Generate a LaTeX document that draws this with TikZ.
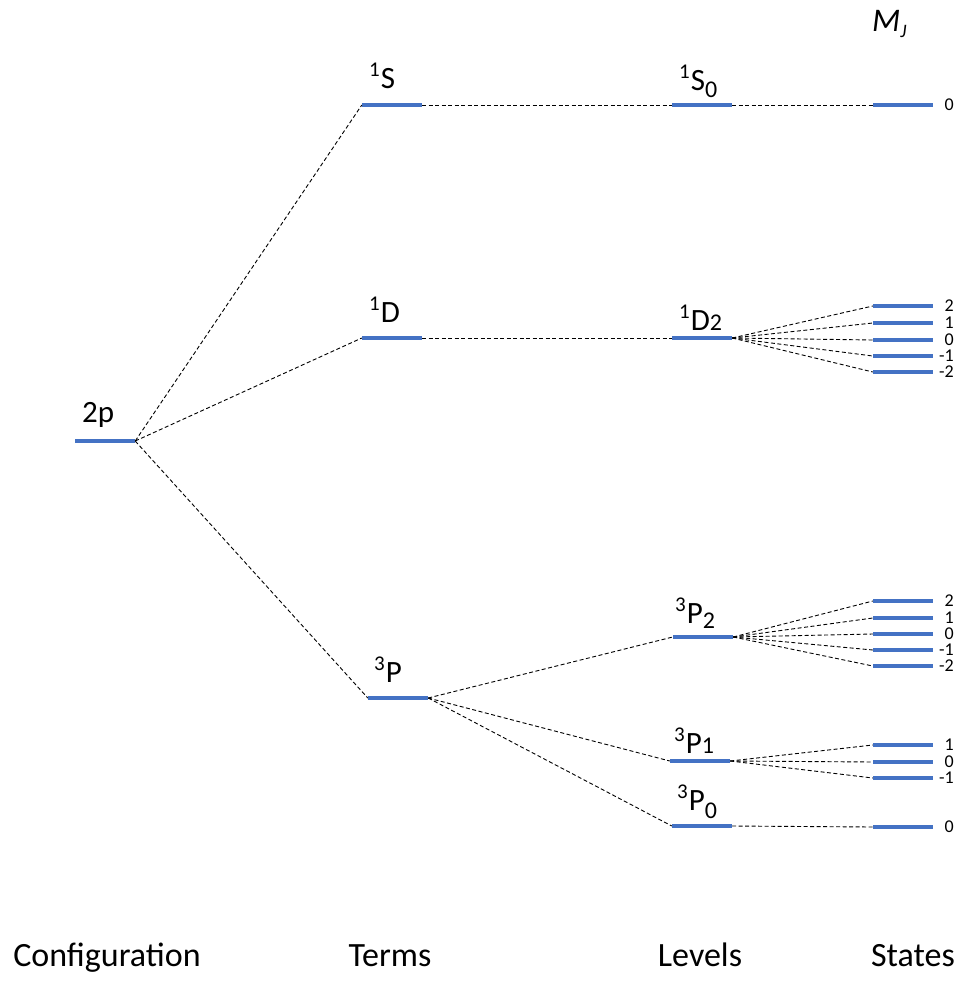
\documentclass[tikz,border=0pt]{standalone}
\usepackage{fontspec}
\setmainfont{Carlito}
\definecolor{barblue}{HTML}{4472C4}
% term symbol: superscript multiplicity, letter, subscript J (with its drop)
\newcommand\termlab[4]{\raisebox{12pt}{\fontsize{21}{21}\selectfont #1}\kern1pt#2\raisebox{-#4pt}{\fontsize{24}{24}\selectfont #3}}
\begin{document}
\begin{tikzpicture}[x=1pt,y=-1pt,
  bar/.style={rectangle,fill=barblue,draw=none,inner sep=0pt,minimum width=60pt,minimum height=4pt},
  conn/.style={draw=black,line width=0.9pt,dash pattern=on 4pt off 2.5pt},
  lab/.style={anchor=base west,inner sep=0pt,font=\fontsize{31}{36}\selectfont},
  mj/.style={anchor=east,inner sep=0pt,font=\fontsize{18}{20}\selectfont},
  col/.style={anchor=base,inner sep=0pt,font=\fontsize{34}{40}\selectfont}]
\useasboundingbox (0,0) rectangle (957,983);

% configuration
\node[bar] (cfg) at (105,441) {};
\node[lab] (cfglab) at (82,422) {2p};

% terms
\node[bar] (tS) at (392,105) {};
\node[bar] (tD) at (392,338) {};
\node[bar] (tP) at (398,698) {};
\node[lab] (tSlab) at (369,88) {\termlab{1}{S}{}{0}};
\node[lab] (tDlab) at (369,322) {\termlab{1}{D}{}{0}};
\node[lab] (tPlab) at (374,682) {\termlab{3}{P}{}{0}};

% levels
\node[bar] (lS0) at (702,105) {};
\node[bar] (lD2) at (702,338) {};
\node[bar] (lP2) at (703,637) {};
\node[bar] (lP1) at (700,761) {};
\node[bar] (lP0) at (702,826) {};
\node[lab] (lS0lab) at (679,90) {\termlab{1}{S}{0}{7}};
\node[lab] (lD2lab) at (679,330) {\termlab{1}{D}{2}{0}};
\node[lab] (lP2lab) at (675,623) {\termlab{3}{P}{2}{5}};
\node[lab] (lP1lab) at (674,753) {\termlab{3}{P}{1}{0}};
\node[lab] (lP0lab) at (677,810) {\termlab{3}{P}{0}{8}};

% states (M_J sublevels)
\node[bar] (sS0) at (903,105) {};
\node[mj] (sS0lab) at (954,105) {0};
\foreach \m/\y in {2/306,1/323,0/340,-1/356,-2/372}{
  \node[bar] (sD\m) at (903,\y) {};
  \node[mj] (sD\m lab) at (954,\y) {\m};
}
\foreach \m/\y in {2/601,1/618,0/634,-1/650,-2/666}{
  \node[bar] (sPb\m) at (903,\y) {};
  \node[mj] (sPb\m lab) at (954,\y) {\m};
}
\foreach \m/\y in {1/745,0/762,-1/778}{
  \node[bar] (sPa\m) at (903,\y) {};
  \node[mj] (sPa\m lab) at (954,\y) {\m};
}
\node[bar] (sP0) at (903,827) {};
\node[mj] (sP0lab) at (954,827) {0};

% M_J heading
\node[anchor=base west,inner sep=0pt] (mjhead) at (872,31)
  {\fontsize{33}{38}\selectfont\itshape M\raisebox{-6pt}{\fontsize{19}{19}\selectfont J}};

% column titles
\node[col] (hcfg) at (107,966) {Configuration};
\node[col] (hterm) at (390,966) {Terms};
\node[col] (hlev) at (700,966) {Levels};
\node[col] (hsta) at (913,966) {States};

% correlation lines
\draw[conn] (cfg.east) -- (tS.west);
\draw[conn] (cfg.east) -- (tD.west);
\draw[conn] (cfg.east) -- (tP.west);
\draw[conn] (tS.east) -- (lS0.west);
\draw[conn] (tD.east) -- (lD2.west);
\draw[conn] (tP.east) -- (lP2.west);
\draw[conn] (tP.east) -- (lP1.west);
\draw[conn] (tP.east) -- (lP0.west);
\draw[conn] (lS0.east) -- (sS0.west);
\foreach \m in {2,1,0,-1,-2}{
  \draw[conn] (lD2.east) -- (sD\m.west);
  \draw[conn] (lP2.east) -- (sPb\m.west);
}
\foreach \m in {1,0,-1}{
  \draw[conn] (lP1.east) -- (sPa\m.west);
}
\draw[conn] (lP0.east) -- (sP0.west);
\end{tikzpicture}
\end{document}
